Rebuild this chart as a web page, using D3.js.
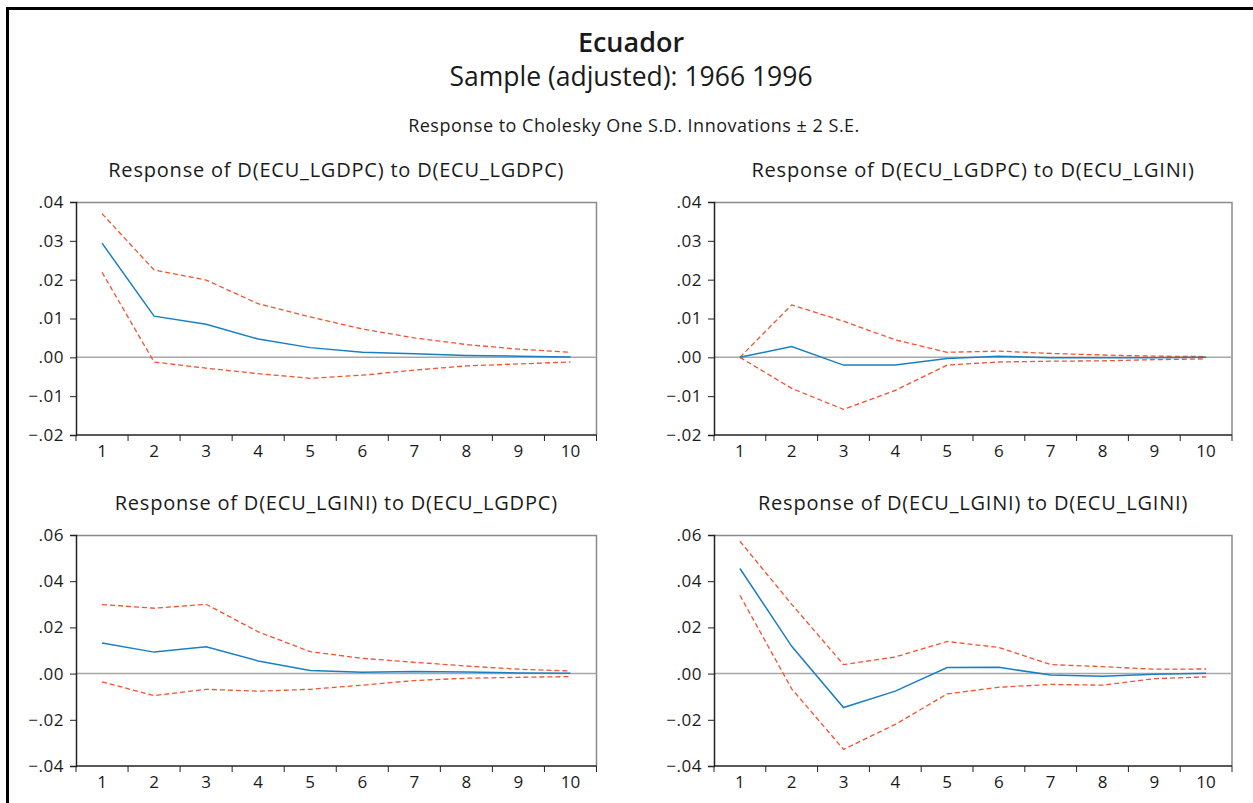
<!DOCTYPE html>
<html>
<head>
<meta charset="utf-8">
<script src="https://cdn.jsdelivr.net/npm/d3@7"></script>
<style>
  html, body { margin: 0; padding: 0; background: #fff; }
  svg { display: block; }
  text { font-family: "Open Sans", Lato, sans-serif; fill: #1a1a1a; }
</style>
</head>
<body>
<svg id="chart" width="1253" height="803"></svg>
<script>
// ---------- data ----------
const periods = [1, 2, 3, 4, 5, 6, 7, 8, 9, 10];

const mainTitle = "Ecuador";
const subTitle = "Sample (adjusted): 1966 1996";
const noteTitle = "Response to Cholesky One S.D. Innovations \u00B1 2 S.E.";

const panelTitles = [
  "Response of D(ECU_LGDPC) to D(ECU_LGDPC)",
  "Response of D(ECU_LGDPC) to D(ECU_LGINI)",
  "Response of D(ECU_LGINI) to D(ECU_LGDPC)",
  "Response of D(ECU_LGINI) to D(ECU_LGINI)"
];

const yTicksTop = [-0.02, -0.01, 0.00, 0.01, 0.02, 0.03, 0.04];
const yTicksBottom = [-0.04, -0.02, 0.00, 0.02, 0.04, 0.06];

// Panel 1: GDPC -> GDPC
const resp1  = [0.0294, 0.0106, 0.0085, 0.0047, 0.0025, 0.0013, 0.0009, 0.0005, 0.0003, 0.0001];
const upper1 = [0.0370, 0.0225, 0.0199, 0.0138, 0.0104, 0.0073, 0.0050, 0.0033, 0.0021, 0.0013];
const lower1 = [0.0219, -0.0012, -0.0028, -0.0042, -0.0054, -0.0046, -0.0033, -0.0022, -0.0017, -0.0012];

// Panel 2: GDPC <- GINI
const resp2  = [0.0000, 0.0028, -0.0020, -0.0020, -0.0003, 0.0003, -0.0001, -0.0001, -0.0001, 0.0000];
const upper2 = [0.0000, 0.0135, 0.0093, 0.0045, 0.0013, 0.0016, 0.0010, 0.0006, 0.0003, 0.0002];
const lower2 = [0.0000, -0.0080, -0.0134, -0.0085, -0.0020, -0.0012, -0.0010, -0.0009, -0.0006, -0.0004];

// Panel 3: GINI <- GDPC
const resp3  = [0.0132, 0.0093, 0.0116, 0.0055, 0.0013, 0.0006, 0.0009, 0.0007, 0.0003, 0.0001];
const upper3 = [0.0299, 0.0283, 0.0300, 0.0181, 0.0095, 0.0066, 0.0049, 0.0033, 0.0019, 0.0011];
const lower3 = [-0.0036, -0.0095, -0.0068, -0.0076, -0.0068, -0.0050, -0.0030, -0.0020, -0.0016, -0.0013];

// Panel 4: GINI <- GINI
const resp4  = [0.0455, 0.0118, -0.0147, -0.0076, 0.0026, 0.0027, -0.0006, -0.0011, -0.0003, 0.0001];
const upper4 = [0.0573, 0.0300, 0.0039, 0.0072, 0.0139, 0.0113, 0.0039, 0.0030, 0.0019, 0.0020];
const lower4 = [0.0339, -0.0066, -0.0328, -0.0220, -0.0088, -0.0059, -0.0047, -0.0050, -0.0022, -0.0014];

// ---------- layout ----------
const svg = d3.select("#chart");
const BLUE = "#1a7fc1";
const RED = "#f2522f";

// outer frame
svg.append("path")
  .attr("d", "M7.5,803 L7.5,8.5 L1253,8.5")
  .attr("fill", "none").attr("stroke", "#000").attr("stroke-width", 3);

svg.append("text").attr("x", 631).attr("y", 52).attr("text-anchor", "middle")
  .style("font-size", "27px").style("font-weight", 600).text(mainTitle);
svg.append("text").attr("x", 631).attr("y", 86).attr("text-anchor", "middle")
  .style("font-size", "26.5px").style("font-weight", 400).text(subTitle);
svg.append("text").attr("x", 634).attr("y", 132).attr("text-anchor", "middle")
  .style("font-size", "18px").style("letter-spacing", "0.5px").style("font-weight", 400).text(noteTitle);

const panels = [
  { title: panelTitles[0], resp: resp1, upper: upper1, lower: lower1, ticks: yTicksTop,    dom: [-0.02, 0.04], x0: 76,  x1: 596.5, y0: 202, y1: 435 },
  { title: panelTitles[1], resp: resp2, upper: upper2, lower: lower2, ticks: yTicksTop,    dom: [-0.02, 0.04], x0: 714, x1: 1232, y0: 202, y1: 435 },
  { title: panelTitles[2], resp: resp3, upper: upper3, lower: lower3, ticks: yTicksBottom, dom: [-0.04, 0.06], x0: 76,  x1: 596.5, y0: 535, y1: 766 },
  { title: panelTitles[3], resp: resp4, upper: upper4, lower: lower4, ticks: yTicksBottom, dom: [-0.04, 0.06], x0: 714, x1: 1232, y0: 535, y1: 766 }
];

const fmt = v => {
  const s = d3.format(".2f")(Math.abs(v)).replace(/^0\./, ".");
  return (v < -1e-9 ? "\u2212" : "") + s;
};

panels.forEach(p => {
  const g = svg.append("g");
  const x = d3.scaleBand().domain(periods).range([p.x0, p.x1]);
  const y = d3.scaleLinear().domain(p.dom).range([p.y1, p.y0]);
  const cx = d => x(d) + x.bandwidth() / 2;

  // title
  g.append("text").attr("x", (p.x0 + p.x1) / 2).attr("y", p.y0 - 25)
    .attr("text-anchor", "middle").style("font-size", "20px").style("letter-spacing", "0.8px")
    .style("font-weight", 400)
    .text(p.title);

  // top & right border (grey)
  g.append("path")
    .attr("d", `M${p.x0},${p.y0 + 0.5} L${p.x1},${p.y0 + 0.5} L${p.x1},${p.y1}`)
    .attr("fill", "none").attr("stroke", "#8a8a8a").attr("stroke-width", 1.5);

  // zero line
  g.append("line")
    .attr("x1", p.x0).attr("x2", p.x1)
    .attr("y1", y(0)).attr("y2", y(0))
    .attr("stroke", "#a8a8a8").attr("stroke-width", 1.5);

  // y axis
  const ya = g.append("g").attr("transform", `translate(${p.x0},0)`)
    .call(d3.axisLeft(y).tickValues(p.ticks).tickFormat(fmt).tickSize(6).tickPadding(6));
  ya.select(".domain").attr("stroke", "#222").attr("stroke-width", 1.5);
  ya.selectAll(".tick line").attr("stroke", "#222");
  ya.selectAll(".tick text").style("font-size", "17px").style("letter-spacing", "0.5px")
    .style("font-family", "'Open Sans', Lato, sans-serif").attr("fill", "#1a1a1a");

  // x axis: ticks at band boundaries
  const xa = g.append("g").attr("transform", `translate(0,${p.y1})`);
  xa.append("line").attr("x1", p.x0).attr("x2", p.x1).attr("stroke", "#222").attr("stroke-width", 1.5);
  const bounds = periods.map(d => x(d)).concat([p.x1]);
  xa.selectAll("line.tk").data(bounds).join("line").attr("class", "tk")
    .attr("x1", d => d).attr("x2", d => d).attr("y1", 0).attr("y2", 6)
    .attr("stroke", "#222").attr("stroke-width", 1);
  xa.selectAll("text").data(periods).join("text")
    .attr("x", d => cx(d)).attr("y", 22)
    .attr("text-anchor", "middle").style("font-size", "17px")
    .text(d => d);

  const line = d3.line().x((d, i) => cx(periods[i])).y(d => y(d));

  g.append("path").datum(p.upper).attr("d", line)
    .attr("fill", "none").attr("stroke", RED).attr("stroke-width", 1.3).attr("stroke-dasharray", "5,3");
  g.append("path").datum(p.lower).attr("d", line)
    .attr("fill", "none").attr("stroke", RED).attr("stroke-width", 1.3).attr("stroke-dasharray", "5,3");
  g.append("path").datum(p.resp).attr("d", line)
    .attr("fill", "none").attr("stroke", BLUE).attr("stroke-width", 1.5);
});
</script>
</body>
</html>
